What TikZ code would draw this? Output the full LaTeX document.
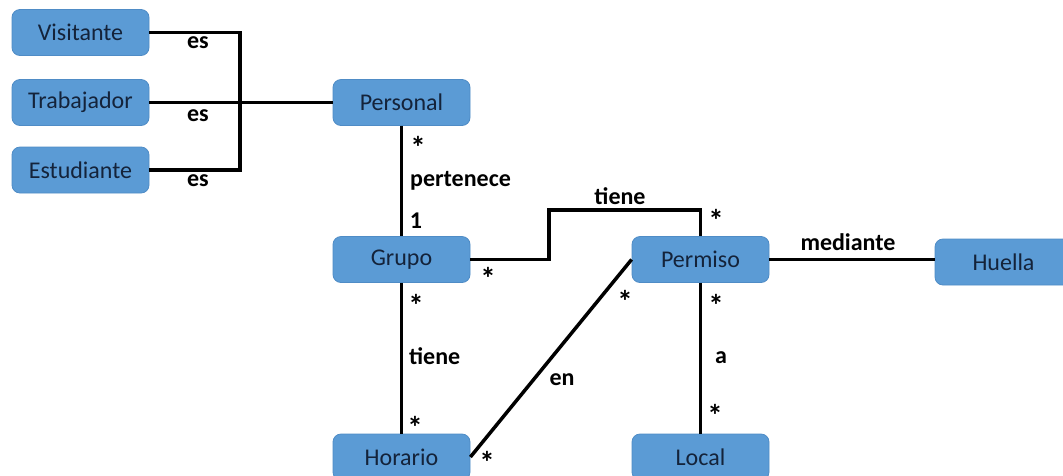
\documentclass[tikz,border=0pt]{standalone}
\usepackage{fontspec}
\setmainfont{Carlito}
\definecolor{boxblue}{HTML}{5B9BD5}
\definecolor{boxedge}{HTML}{4F8CC6}
\definecolor{boxtext}{HTML}{14233A}
\begin{document}
\begin{tikzpicture}[x=1pt,y=-1pt,
  ent/.style={rectangle, rounded corners=8pt, fill=boxblue, draw=boxedge, line width=0.8pt,
    minimum width=137pt, minimum height=46pt, inner sep=0pt, text=boxtext,
    font=\fontsize{24}{28}\selectfont},
  lbl/.style={font=\bfseries\fontsize{24}{28}\selectfont, inner sep=0pt, text=black},
  mult/.style={font=\bfseries\fontsize{31}{34}\selectfont, inner sep=0pt, text=black, yshift=-4pt},
  rel/.style={line width=3.5pt, black}]
\useasboundingbox (0,0) rectangle (1063,475);
\fill[white] (0,0) rectangle (1063,475);

% entities
\node[ent] (vis) at (80.5,32.5) {Visitante};
\node[ent] (tra) at (80.5,102.5) {Trabajador};
\node[ent] (est) at (80.5,170) {Estudiante};
\node[ent] (per) at (401.5,102.5) {Personal};
\node[ent] (gru) at (401.5,259.5) {Grupo};
\node[ent] (prm) at (700.5,259.5) {Permiso};
\node[ent] (hue) at (1003.5,262) {Huella};
\node[ent] (hor) at (401.5,457) {Horario};
\node[ent] (loc) at (700.5,457) {Local};

% bend points
\coordinate (jes) at (240,102);
\coordinate (jti) at (549,210);

% relations
\draw[rel] (vis.east) -| (jes) |- (est.east);
\draw[rel] (tra.east) -- (per.west);
\draw[rel] (per.south) -- (gru.north);
\draw[rel] (gru.east) -| (jti) -| (prm.north);
\draw[rel] (prm.east) -- (prm.east -| hue.west);
\draw[rel] (gru.south) -- (hor.north);
\draw[rel] (prm.south) -- (loc.north);
\draw[rel] (hor.east) -- (prm.west);

% role names
\node[lbl] (es1) at (198,43) {es};
\node[lbl] (es2) at (198,116) {es};
\node[lbl] (es3) at (198,181) {es};
\node[lbl, anchor=west] (pert) at (410,181) {pertenece};
\node[lbl] (ti1) at (620,196) {tiene};
\node[lbl] (med) at (848,242) {mediante};
\node[lbl, anchor=west] (ti2) at (409,356) {tiene};
\node[lbl] (en) at (562,380) {en};
\node[lbl] (aa) at (721,358) {a};

% multiplicities
\node[lbl] (m2) at (416,221) {1};
\node[mult] (m1) at (418,143) {*};
\node[mult] (m3) at (488,274) {*};
\node[mult] (m4) at (716,216) {*};
\node[mult] (m5) at (416,301) {*};
\node[mult] (m6) at (415,423) {*};
\node[mult] (m7) at (625,297) {*};
\node[mult] (m8) at (487,458) {*};
\node[mult] (m9) at (716,301) {*};
\node[mult] (m10) at (715,411) {*};
\end{tikzpicture}
\end{document}
